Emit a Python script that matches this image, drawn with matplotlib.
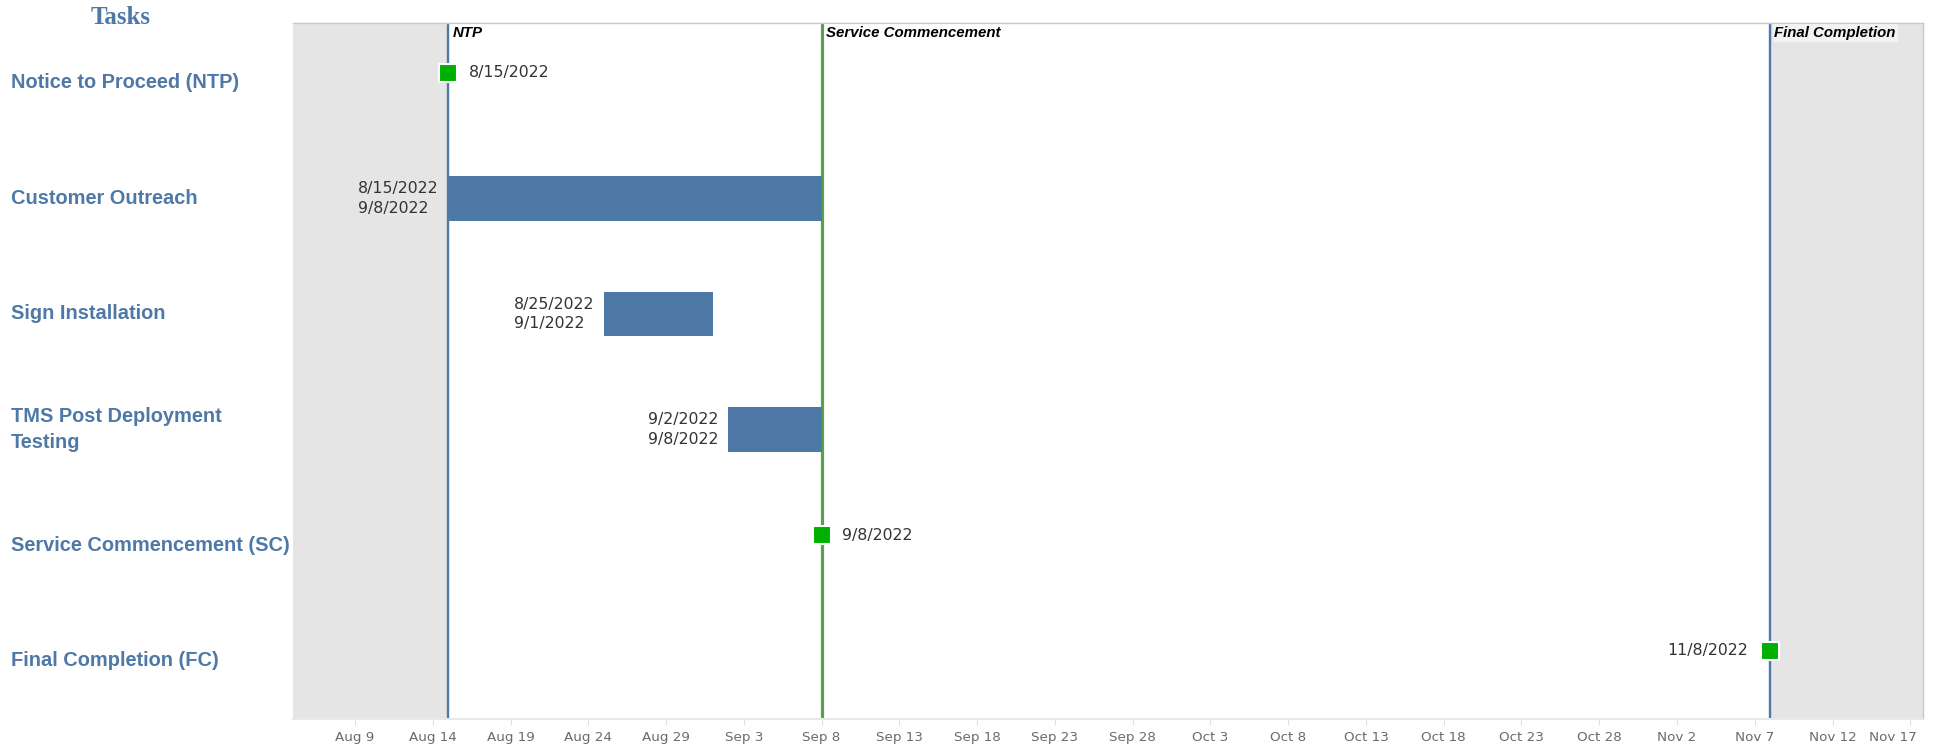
import matplotlib
matplotlib.use("Agg")
import matplotlib.pyplot as plt
import matplotlib.dates as mdates
import matplotlib.transforms as mtransforms
import pandas as pd

# ---------------- data ----------------
tasks = ["Notice to Proceed (NTP)", "Customer Outreach", "Sign Installation",
         "TMS Post Deployment\nTesting", "Service Commencement (SC)", "Final Completion (FC)"]
task_kind = ["milestone", "bar", "bar", "bar", "milestone", "milestone"]
start_dates = ["2022-08-15", "2022-08-15", "2022-08-25", "2022-09-02", "2022-09-08", "2022-11-08"]
end_dates = [None, "2022-09-08", "2022-09-01", "2022-09-08", None, None]
start_labels = ["8/15/2022", "8/15/2022", "8/25/2022", "9/2/2022", "9/8/2022", "11/8/2022"]
end_labels = [None, "9/8/2022", "9/1/2022", "9/8/2022", None, None]
milestone_label_side = ["right", None, None, None, "right", "left"]

ref_names = ["NTP", "Service Commencement", "Final Completion"]
ref_dates = ["2022-08-15", "2022-09-08", "2022-11-08"]
ref_colors = ["#4E79A7", "#59A14F", "#4E79A7"]
ref_widths = [1.7, 2.3, 1.7]

tick_dates = ["2022-08-09", "2022-08-14", "2022-08-19", "2022-08-24", "2022-08-29",
              "2022-09-03", "2022-09-08", "2022-09-13", "2022-09-18", "2022-09-23",
              "2022-09-28", "2022-10-03", "2022-10-08", "2022-10-13", "2022-10-18",
              "2022-10-23", "2022-10-28", "2022-11-02", "2022-11-07", "2022-11-12",
              "2022-11-17"]
tick_labels = ["Aug 9", "Aug 14", "Aug 19", "Aug 24", "Aug 29", "Sep 3", "Sep 8",
               "Sep 13", "Sep 18", "Sep 23", "Sep 28", "Oct 3", "Oct 8", "Oct 13",
               "Oct 18", "Oct 23", "Oct 28", "Nov 2", "Nov 7", "Nov 12", "Nov 17"]
x_range = ["2022-08-05", "2022-11-17 19:00"]

# ---------------- style ----------------
BLUE = "#4E79A7"
MARK_GREEN = "#00B000"
SHADE = "#E5E5E5"
LABEL_FONT = "DejaVu Sans"
DATA_FS = 11.3

fig = plt.figure(figsize=(19.42, 7.51), dpi=100)
ax = fig.add_axes([0.1508, 0.043, 0.8392, 0.927])

d = lambda s: mdates.date2num(pd.Timestamp(s))
xmin, xmax = d(x_range[0]), d(x_range[1])
ax.set_xlim(xmin, xmax)
ax.set_ylim(5.5, -0.52)

# shaded regions outside NTP .. Final Completion
ax.axvspan(xmin, d(ref_dates[0]), color=SHADE, zorder=0, lw=0)
ax.axvspan(d(ref_dates[-1]), xmax, color=SHADE, zorder=0, lw=0)

# reference lines
for name, dt, c, w in zip(ref_names, ref_dates, ref_colors, ref_widths):
    x = d(dt)
    ax.axvline(x, color=c, lw=w, zorder=2)
    ax.annotate(name, xy=(x, 1.0), xycoords=("data", "axes fraction"),
                xytext=(3, -2.5), textcoords="offset points", ha="left", va="top",
                fontsize=10.8, fontweight="bold", fontstyle="italic",
                family="Liberation Sans", color="black", zorder=6,
                bbox=dict(boxstyle="square,pad=0.12", fc="white", ec="none", alpha=0.55))

bar_h = 0.385
for i, (kind, s, e, sl, el, side) in enumerate(zip(task_kind, start_dates, end_dates,
                                                    start_labels, end_labels,
                                                    milestone_label_side)):
    if kind == "bar":
        x0, x1 = d(s), d(e)
        ax.barh(i, x1 - x0, left=x0, height=bar_h, color=BLUE, zorder=3)
        ax.annotate(sl + "\n" + el, xy=(x0, i), xytext=(-7, 0),
                    textcoords="offset points", ha="right", va="center",
                    multialignment="left", fontsize=DATA_FS, family=LABEL_FONT,
                    color="#333333", linespacing=1.4, zorder=5)
    else:
        y = i - 0.086
        ax.plot([d(s)], [y], marker="s", markersize=12.5, color=MARK_GREEN,
                markeredgecolor="white", markeredgewidth=1.5, zorder=4,
                linestyle="none")
        if side == "right":
            ax.annotate(sl, xy=(d(s), y), xytext=(15, 0), textcoords="offset points",
                        ha="left", va="center", fontsize=DATA_FS, family=LABEL_FONT,
                        color="#333333", zorder=5)
        else:
            ax.annotate(sl, xy=(d(s), y), xytext=(-16, 0), textcoords="offset points",
                        ha="right", va="center", fontsize=DATA_FS, family=LABEL_FONT,
                        color="#333333", zorder=5)

# x axis
ax.set_xticks([d(t) for t in tick_dates])
ax.set_xticklabels(tick_labels, fontsize=9.7, color="#6B6B6B", family=LABEL_FONT)
ax.tick_params(axis="x", length=4, color="#E0E0E0", pad=5)
last = ax.get_xticklabels()[-1]
last.set_horizontalalignment("right")
last.set_transform(last.get_transform() +
                   mtransforms.ScaledTranslation(5 / 72, 0, fig.dpi_scale_trans))
ax.set_yticks([])

for sp in ["top", "right", "bottom"]:
    ax.spines[sp].set_color("#C8C8C8")
    ax.spines[sp].set_linewidth(1.0)
ax.spines["bottom"].set_color("#E8E8E8")
ax.spines["bottom"].set_linewidth(1.5)
ax.spines["left"].set_visible(False)

# task labels
trans = mtransforms.blended_transform_factory(fig.transFigure, ax.transData)
for i, t in enumerate(tasks):
    ax.text(0.0057, i, t, transform=trans, ha="left", va="center",
            fontsize=14.4, fontweight="bold", family="Liberation Sans", color=BLUE,
            linespacing=1.45, clip_on=False)

fig.text(0.062, 0.977, "Tasks", ha="center", va="center", fontsize=18,
         fontweight="bold", family="Liberation Serif", color=BLUE)

fig.savefig("out.png", dpi=100)
